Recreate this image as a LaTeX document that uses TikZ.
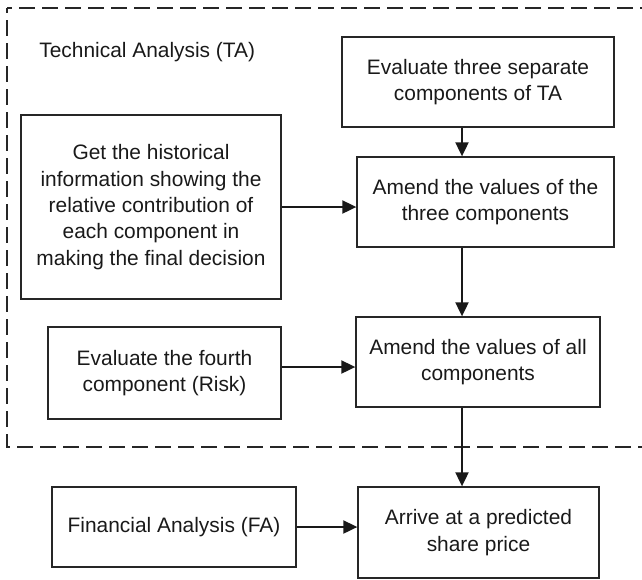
\documentclass[tikz,border=0pt]{standalone}
\usepackage{fontspec}
\setmainfont{Liberation Sans}
\usetikzlibrary{arrows.meta}

\begin{document}
\begin{tikzpicture}[x=0.2mm, y=-0.2mm,
    font=\fontsize{11.9}{15}\selectfont, text=black!90,
    blk/.style={draw=black!85, line width=0.75pt, align=center, inner sep=2pt},
    flow/.style={-{Triangle[length=2.8mm, width=2.6mm]}, line width=1.1pt, black!90},
    frame/.style={line width=1.3pt, black!85, dash pattern=on 3.2mm off 1.4mm, dash phase=2.2mm}]
    \useasboundingbox (0,0) rectangle (642,579);
    % TA frame, left open on the right side
    \draw[frame] (7,8) -- (642,8);
    \draw[frame] (7,8) -- (7,447) -- (642,447);
    \node[anchor=west, inner sep=0pt] (ta) at (39,52) {Technical Analysis (TA)};
    \node[blk, minimum width=54.4mm, minimum height=18mm] (A) at (478,82)
      {Evaluate three separate\\components of TA};
    \node[blk, minimum width=52mm, minimum height=36.8mm] (B) at (151,207)
      {Get the historical\\information showing the\\relative contribution of\\each component in\\making the final decision};
    \node[blk, minimum width=51.4mm, minimum height=18mm] (C) at (485.5,202)
      {Amend the values of the\\three components};
    \node[blk, minimum width=46.6mm, minimum height=18.4mm] (D) at (164.5,373)
      {Evaluate the fourth\\component (Risk)};
    \node[blk, minimum width=48.8mm, minimum height=18mm] (E) at (478,362)
      {Amend the values of all\\components};
    % outside the frame
    \node[blk, minimum width=48.8mm, minimum height=16mm] (F) at (174,527)
      {Financial Analysis (FA)};
    \node[blk, minimum width=48.2mm, minimum height=18.2mm] (G) at (478.5,532.5)
      {Arrive at a predicted\\share price};
    \coordinate (spine) at (462,0);
    \draw[flow] (A.south -| spine) -- (C.north -| spine);
    \draw[flow] (B.east) -- (B.east -| C.west);
    \draw[flow] (C.south -| spine) -- (E.north -| spine);
    \draw[flow] ([yshift=1.2mm]D.east) -- ([yshift=1.2mm]D.east -| E.west);
    \draw[flow] (E.south -| spine) -- (G.north -| spine);
    \draw[flow] (F.east) -- (F.east -| G.west);
  \end{tikzpicture}
\end{document}
